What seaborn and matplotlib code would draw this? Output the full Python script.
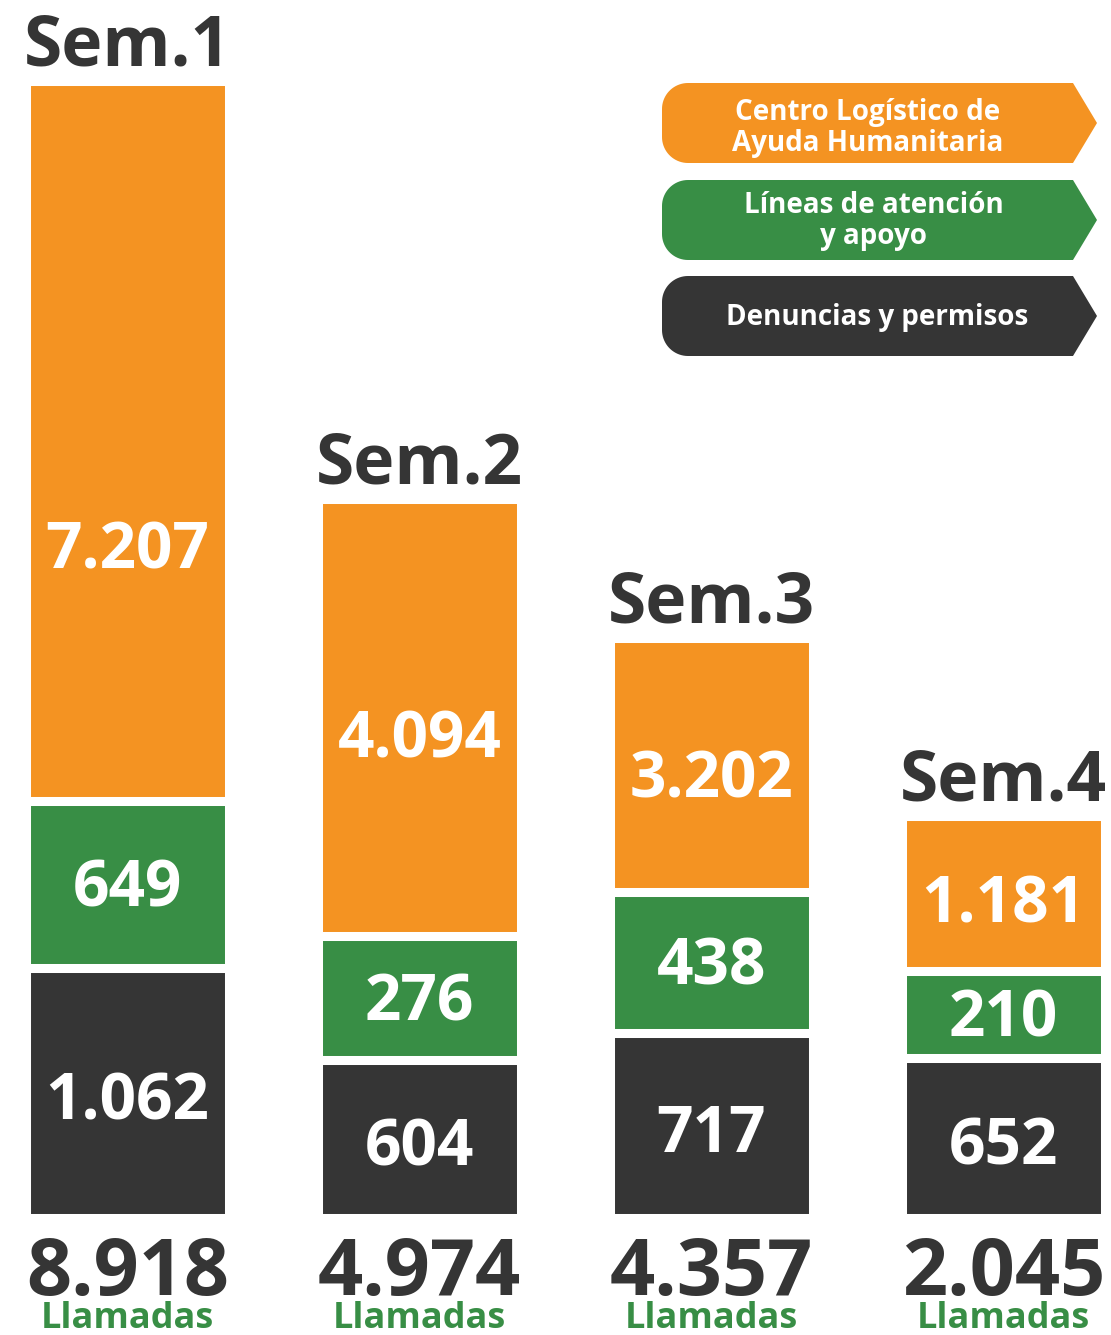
import numpy as np
import matplotlib
matplotlib.use("Agg")
import matplotlib.pyplot as plt
import seaborn as sns
from matplotlib.patches import Polygon

# ==================== Datos ====================
semanas = ["Sem.1", "Sem.2", "Sem.3", "Sem.4"]

# llamadas por categoría (etiquetas)
centro = [7207, 4094, 3202, 1181]
lineas = [649, 276, 438, 210]
denuncias = [1062, 604, 717, 652]
totales = [8918, 4974, 4357, 2045]

# altura dibujada de cada tramo (la infografía no es proporcional)
alto_centro = [720, 437, 254, 155]
alto_lineas = [167, 124, 141, 87]
alto_denuncias = [250, 158, 185, 160]

leyenda = [
    ["Centro Logístico de", "Ayuda Humanitaria"],
    ["Líneas de atención", "y apoyo"],
    ["Denuncias y permisos"],
]

naranja = "#F49322"
verde = "#388E45"
oscuro = "#353535"

# ==================== Figura ====================
sns.set_style("white")
plt.rcParams["font.family"] = ["Open Sans", "DejaVu Sans"]

fig = plt.figure(figsize=(11.11, 13.35), dpi=100)
ax = fig.add_axes([0, 0, 1, 1])

base_lineas = np.array(alto_denuncias)
base_centro = base_lineas + np.array(alto_lineas)
tope = base_centro + np.array(alto_centro)

# barras apiladas: se dibuja el acumulado y se tapa por capas
for alturas, color in [(tope, naranja), (base_centro, verde), (base_lineas, oscuro)]:
    sns.barplot(x=semanas, y=alturas, color=color, saturation=1, width=0.692,
                edgecolor="white", linewidth=6.5, errorbar=None, ax=ax)

ax.set_xlim(-0.43664, 3.36815)
ax.set_ylim(-117.5, 1217.5)
ax.axis("off")


def fmt(v):
    return f"{v:,}".replace(",", ".")


num_size = 46
cap = num_size * 100 / 72 * 0.714 / 2  # mitad de la altura de cifra en px

for i in range(len(semanas)):
    # etiquetas de cada tramo
    y_den = alto_denuncias[i] / 2 - 4
    y_lin = base_lineas[i] + alto_lineas[i] / 2
    y_cen = base_centro[i] + min(alto_centro[i] * 0.46, 255)
    for y, v in [(y_den, denuncias[i]), (y_lin, lineas[i]), (y_cen, centro[i])]:
        ax.text(i, y - cap, fmt(v), ha="center", va="baseline", color="white",
                fontsize=num_size, fontweight="bold")

    # título de la semana
    ax.text(i, tope[i] + 15, semanas[i], ha="center", va="baseline",
            color=oscuro, fontsize=50, fontweight="bold")

    # total y "Llamadas"
    ax.text(i, -78, fmt(totales[i]), ha="center", va="baseline",
            color=oscuro, fontsize=57, fontweight="bold")
    ax.text(i, -110, "Llamadas", ha="center", va="baseline",
            color=verde, fontsize=26, fontweight="bold")

# ==================== Leyenda (flechas) ====================
ax2 = fig.add_axes([0, 0, 1, 1])
ax2.set_xlim(0, 1111)
ax2.set_ylim(1335, 0)
ax2.axis("off")
ax2.patch.set_alpha(0)


def flecha(x0, x1, xp, y0, y1, r):
    t = np.linspace(0, np.pi / 2, 20)
    pts = [(x0 + r, y0), (x1, y0), (xp, (y0 + y1) / 2), (x1, y1), (x0 + r, y1)]
    cx, cy = x0 + r, y1 - r
    pts += list(zip(cx - r * np.sin(t), cy + r * np.cos(t)))
    cx, cy = x0 + r, y0 + r
    pts += list(zip(cx - r * np.cos(t), cy - r * np.sin(t)))
    return pts


cajas = [(83, 163, naranja, 868, [120, 151]),
         (180, 260, verde, 874, [213, 244]),
         (276, 356, oscuro, 877, [325])]

for (y0, y1, color, xc, bases), lineas_txt in zip(cajas, leyenda):
    ax2.add_patch(Polygon(flecha(662, 1073, 1097, y0, y1, 26), closed=True,
                          facecolor=color, edgecolor="none"))
    for yb, txt in zip(bases, lineas_txt):
        ax2.text(xc, yb, txt, ha="center", va="baseline", color="white",
                 fontsize=20, fontweight="bold")

fig.savefig("out.png", dpi=100)
